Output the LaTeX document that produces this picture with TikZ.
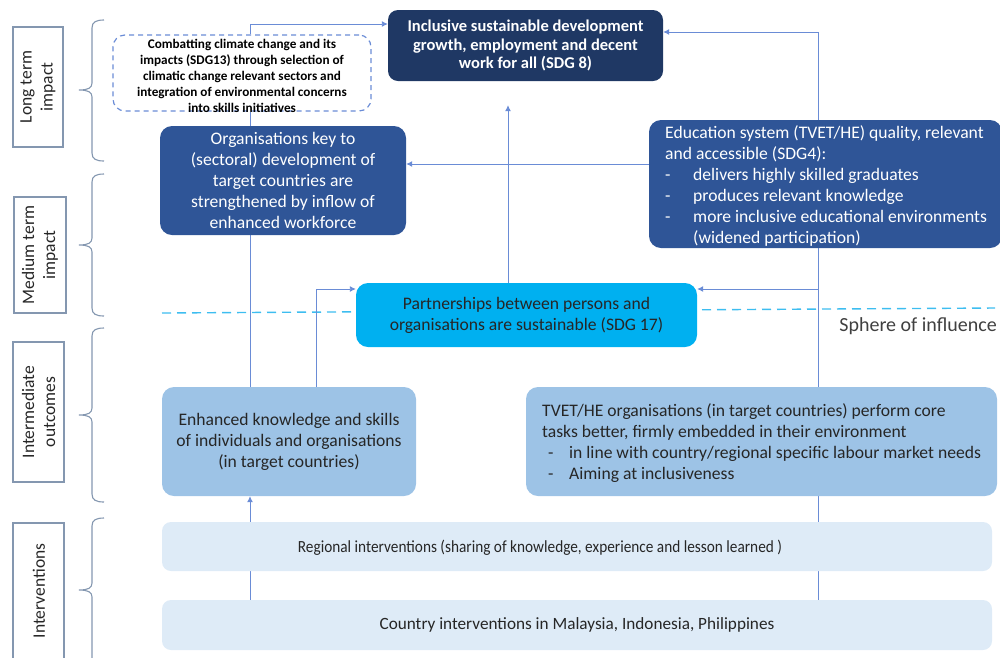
\documentclass[tikz,border=0pt]{standalone}
\usepackage{fontspec}
\usepackage{graphicx}
\setmainfont{Carlito}
\usetikzlibrary{arrows.meta,backgrounds}

\definecolor{navy}{HTML}{1F3864}
\definecolor{midblue}{HTML}{2F5597}
\definecolor{cyanbox}{HTML}{00B0F0}
\definecolor{lightbox}{HTML}{9DC3E6}
\definecolor{palebox}{HTML}{DEEBF7}
\definecolor{linkblue}{HTML}{6A8CD6}
\definecolor{sphere}{HTML}{3DBDF0}
\definecolor{framegray}{HTML}{8497B0}
\definecolor{inktext}{HTML}{262626}

\tikzset{
  box/.style={rounded corners=12pt, inner sep=0pt, align=center},
  bodyfont/.style={font=\fontsize{17.6}{21}\selectfont},
  navybox/.style={box, fill=navy, text=white, font=\bfseries\fontsize{16.5}{18.5}\selectfont},
  midbox/.style={box, fill=midblue, text=white, bodyfont},
  cyanstyle/.style={box, fill=cyanbox, text=inktext, bodyfont},
  lightstyle/.style={box, fill=lightbox, text=inktext, bodyfont},
  palestyle/.style={box, rounded corners=9pt, fill=palebox, text=inktext, font=\fontsize{17.2}{20}\selectfont},
  dashbox/.style={box, draw=linkblue, line width=1.2pt, dash pattern=on 5pt off 4pt},
  smallbold/.style={align=center, text=black, font=\bfseries\fontsize{13.2}{16}\selectfont, inner sep=0pt},
  lblbox/.style={draw=framegray, line width=1.1pt, inner sep=0pt},
  lbltext/.style={rotate=90, align=center, text=inktext, font=\fontsize{17.5}{21}\selectfont, inner sep=0pt},
  brace/.style={draw=framegray, line width=1.1pt},
  ln/.style={draw=linkblue, line width=0.9pt},
  arr/.style={ln, -{Latex[length=6pt,width=6pt]}}
}
\newcommand{\bulletline}[2]{\makebox[#1][l]{-}#2}

\begin{document}
\begin{tikzpicture}[x=1pt,y=-1pt]
\useasboundingbox (0,0) rectangle (1000,657);
\clip (0,0) rectangle (1000,657);

% helper columns and rows for the connectors
\coordinate (colA) at (250,0);
\coordinate (colB) at (316,0);
\coordinate (colC) at (508,0);
\coordinate (colD) at (818,0);
\coordinate (rowTop) at (0,24);
\coordinate (rowTopR) at (0,32);
\coordinate (rowE) at (0,164);
\coordinate (rowP) at (0,289);

% left-hand level labels
\node[lblbox, minimum width=50pt, minimum height=120pt] (ltbox) at (38,87) {};
\node[lbltext] (lttxt) at (38,87) {Long term\\impact};
\node[lblbox, minimum width=52pt, minimum height=116pt] (mtbox) at (40,255) {};
\node[lbltext] (mttxt) at (40,255) {Medium term\\impact};
\node[lblbox, minimum width=51pt, minimum height=140pt] (iobox) at (38.5,412) {};
\node[lbltext] (iotxt) at (38.5,412) {Intermediate\\outcomes};
\node[lblbox, minimum width=51pt, minimum height=180pt] (ivbox) at (38.5,613) {};
\node[lbltext] (ivtxt) at (39,591) {Interventions};

% braces
\foreach \t/\m/\b in {20/90/161, 174/245/316, 328/415/502, 518/590/670}{
  \draw[brace] (104,\t) .. controls (96,\t) and (92,\t+2) .. (92,\t+8)
    -- (92,\m-7) .. controls (92,\m-2) and (88,\m) .. (79,\m)
    .. controls (88,\m) and (92,\m+2) .. (92,\m+7)
    -- (92,\b-8) .. controls (92,\b-2) and (96,\b) .. (104,\b);
}

% outcome and impact boxes
\node[navybox, rounded corners=10pt, minimum width=275pt, minimum height=71pt] (sdg8) at (525.5,45.5)
  {Inclusive sustainable development\\growth, employment and decent\\work for all (SDG 8)};

\node[dashbox, minimum width=258pt, minimum height=76pt] (sdg13) at (242,73) {};
\node[smallbold] (sdg13txt) at (242,76)
  {Combatting climate change and its\\impacts (SDG13) through selection of\\climatic change relevant sectors and\\integration of environmental concerns\\into skills initiatives};

\node[midbox, minimum width=246pt, minimum height=109pt] (org) at (283,180.5)
  {Organisations key to\\(sectoral) development of\\target countries are\\strengthened by inflow of\\enhanced workforce};

\node[midbox, minimum width=353pt, minimum height=128pt] (edu) at (825.5,184) {};
\node[anchor=west, align=left, text=white, inner sep=0pt, bodyfont] (edutxt) at (665,185.5)
  {Education system (TVET/HE) quality, relevant\\
   and accessible (SDG4):\\
   \bulletline{28pt}{delivers highly skilled graduates}\\
   \bulletline{28pt}{produces relevant knowledge}\\
   \bulletline{28pt}{more inclusive educational environments}\\
   \hspace*{28pt}(widened participation)};

\node[cyanstyle, minimum width=341pt, minimum height=64pt] (part) at (526.5,315)
  {Partnerships between persons and\\organisations are sustainable (SDG 17)};

\node[lightstyle, minimum width=254pt, minimum height=109pt] (enh) at (289,441.5)
  {Enhanced knowledge and skills\\of individuals and organisations\\(in target countries)};

\node[lightstyle, minimum width=471pt, minimum height=109pt] (tvet) at (761.5,441.5) {};
\node[anchor=west, align=left, text=inktext, inner sep=0pt, bodyfont] (tvettxt) at (542,443)
  {TVET/HE organisations (in target countries) perform core\\
   tasks better, firmly embedded in their environment\\
   \hspace*{6pt}\bulletline{21pt}{in line with country/regional specific labour market needs}\\
   \hspace*{6pt}\bulletline{21pt}{Aiming at inclusiveness}};

% interventions
\node[palestyle, minimum width=830pt, minimum height=49pt] (reg) at (577,546.5) {};
\node[text=inktext, inner sep=0pt, font=\fontsize{17}{20}\selectfont] (regtxt) at (540,548)
  {\scalebox{0.9}[1]{Regional interventions (sharing of knowledge, experience and lesson learned )}};
\node[palestyle, minimum width=830pt, minimum height=50pt] (cty) at (577,625)
  {Country interventions in Malaysia, Indonesia, Philippines};

\begin{pgfonlayer}{background}
% sphere of influence boundary
\draw[sphere, line width=1.4pt, dash pattern=on 9pt off 6pt] (162,313) -- (995,308);

% connectors
\draw[arr] (sdg13.north -| colA) |- (sdg8.west |- rowTop);
\draw[ln]  (org.north -| colA) -- (sdg13.south -| colA);
\draw[ln]  (enh.north -| colA) -- (org.south -| colA);
\draw[arr] (enh.north -| colB) |- (part.west |- rowP);
\draw[arr, shorten >=24pt] (part.north -| colC) -- (sdg8.south -| colC);
\draw[arr] (edu.north -| colD) |- (sdg8.east |- rowTopR);
\draw[arr] (edu.west |- rowE) -- (org.east |- rowE);
\draw[ln]  (tvet.north -| colD) -- (edu.south -| colD);
\draw[arr] (tvet.north -| colD) |- (part.east |- rowP);
\draw[arr] (reg.north -| colA) -- (enh.south -| colA);
\draw[ln]  (cty.north -| colA) -- (reg.south -| colA);
\draw[ln]  (reg.north -| colD) -- (tvet.south -| colD);
\draw[ln]  (cty.north -| colD) -- (reg.south -| colD);
\end{pgfonlayer}

\node[anchor=east, text=black!75, font=\fontsize{20}{23}\selectfont, inner sep=0pt] (sphtxt) at (997,326) {Sphere of influence};
\end{tikzpicture}
\end{document}
